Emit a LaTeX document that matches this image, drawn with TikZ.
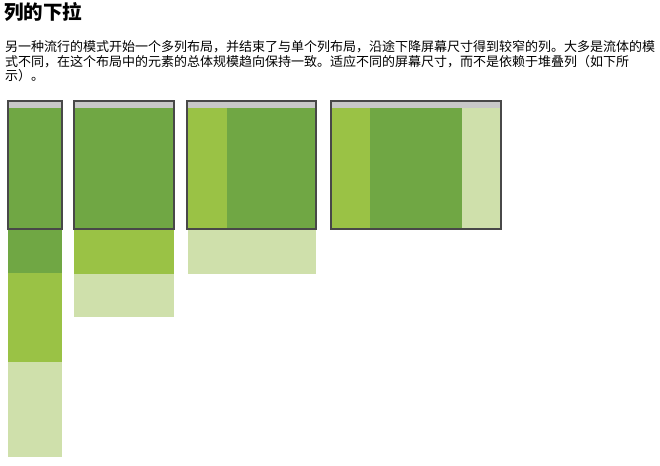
\documentclass[tikz,border=0pt]{standalone}
\usepackage{fontspec}
\newfontfamily\cjk{Noto Sans CJK SC}
\usetikzlibrary{positioning}
\definecolor{dkgreen}{HTML}{70A744}
\definecolor{ltgreen}{HTML}{9AC245}
\definecolor{palegreen}{HTML}{CFE0AB}
\definecolor{topbar}{HTML}{C8C8C8}
\definecolor{frame}{HTML}{484848}

\begin{document}
\begin{tikzpicture}[x=1pt, y=-1pt,
  ttl/.style={anchor=west, inner sep=0pt, font=\cjk\bfseries\fontsize{19.5}{22}\selectfont},
  txt/.style={anchor=west, inner sep=0pt, font=\cjk\fontsize{13}{15}\selectfont},
  win/.style={draw=frame, line width=2.6pt},
  bar/.style={fill=topbar}
]
  \useasboundingbox (0,0) rectangle (660,465);

  % heading and text
  \node[ttl] (title) at (4,12) {列的下拉};
  \node[txt] (line1) at (5,47) {另一种流行的模式开始一个多列布局，并结束了与单个列布局，沿途下降屏幕尺寸得到较窄的列。大多是流体的模};
  \node[txt] (line2) at (5,61.5) {式不同，在这个布局中的元素的总体规模趋向保持一致。适应不同的屏幕尺寸，而不是依赖于堆叠列（如下所};
  \node[txt] (line3) at (5,76) {示）。};

  % narrowest screen: three stacked columns
  \fill[dkgreen] (8,101) rectangle (62,273);
  \fill[ltgreen] (8,273) rectangle (62,362);
  \fill[palegreen] (8,362) rectangle (62,457);
  \fill[bar] (8,101) rectangle (62,108);
  \draw[win] (8,101) rectangle (62,229);

  % two columns stacked
  \fill[dkgreen] (74,101) rectangle (174,230);
  \fill[ltgreen] (74,230) rectangle (174,274);
  \fill[palegreen] (74,274) rectangle (174,317);
  \fill[bar] (74,101) rectangle (174,108);
  \draw[win] (74,101) rectangle (174,229);

  % two side by side, one below
  \fill[ltgreen] (187,101) rectangle (227,229);
  \fill[dkgreen] (227,101) rectangle (316,229);
  \fill[palegreen] (188,230) rectangle (316,274);
  \fill[bar] (187,101) rectangle (316,108);
  \draw[win] (187,101) rectangle (316,229);

  % widest screen: three side by side
  \fill[ltgreen] (331,101) rectangle (370,229);
  \fill[dkgreen] (370,101) rectangle (462,229);
  \fill[palegreen] (462,101) rectangle (501,229);
  \fill[bar] (331,101) rectangle (501,108);
  \draw[win] (331,101) rectangle (501,229);
\end{tikzpicture}
\end{document}
